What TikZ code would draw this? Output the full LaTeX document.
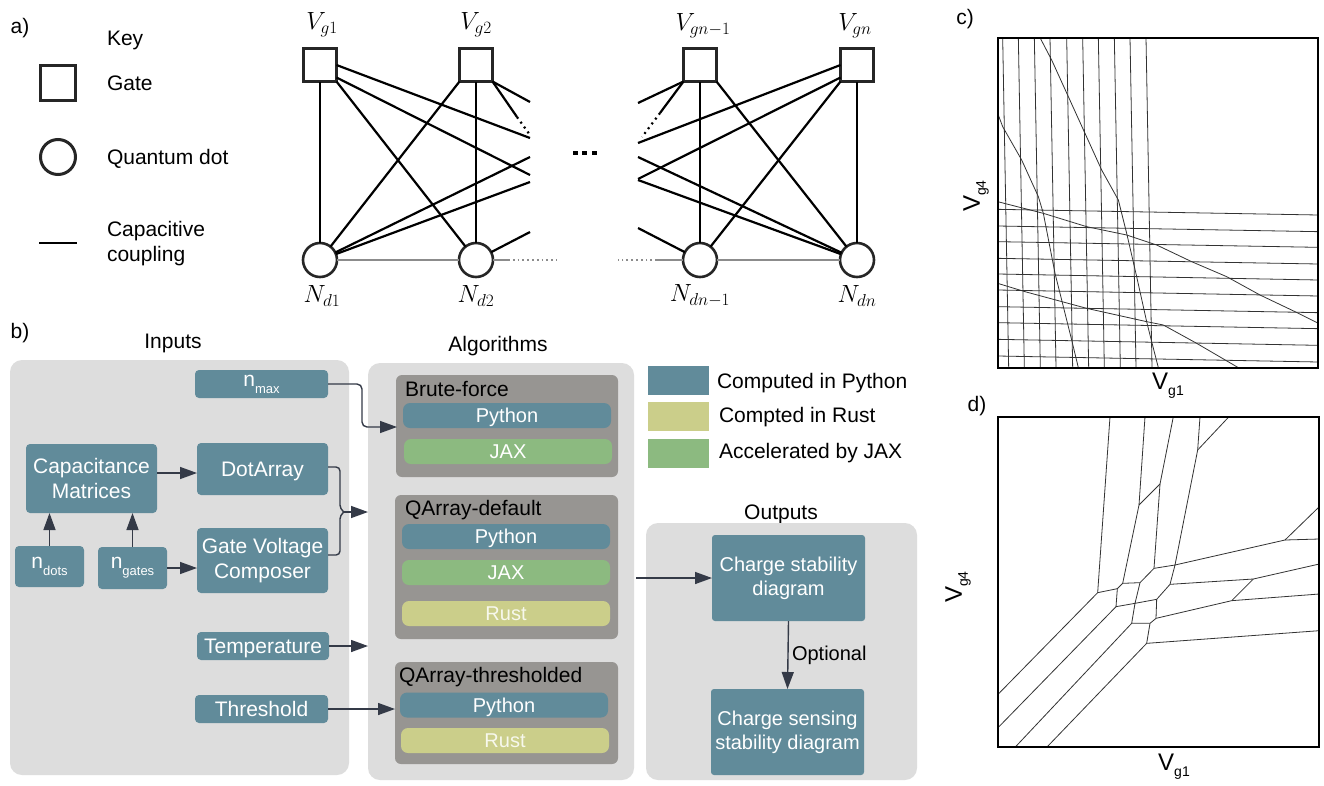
\documentclass[tikz,border=0pt]{standalone}
\usepackage[no-math]{fontspec}
\setmainfont{Liberation Sans}
\usetikzlibrary{arrows.meta}
\definecolor{cteal}{RGB}{97,139,154}
\definecolor{cgreen}{RGB}{140,186,128}
\definecolor{cyel}{RGB}{203,206,138}
\definecolor{cgroup}{RGB}{151,149,146}
\definecolor{cpanel}{RGB}{221,221,221}
\definecolor{carrow}{RGB}{52,58,71}
\definecolor{cgrayline}{RGB}{140,140,140}
\newcommand\fsz[2]{\fontsize{#1}{#2}\selectfont}
\newcommand\nsub[1]{n\raisebox{-7pt}{\fsz{13}{13}#1}}
\newcommand\Vsub[1]{V\raisebox{-6pt}{\fsz{14}{14}#1}}
\begin{document}
\begin{tikzpicture}[x=1pt,y=-1pt,
 every node/.style={inner sep=0pt, outer sep=0pt},
 panel/.style={fill=cpanel, rounded corners=12pt},
 grp/.style={fill=cgroup, rounded corners=6pt},
 tbox/.style={fill=cteal, rounded corners=4pt, text=white, font=\fsz{21}{25}, align=center},
 onel/.style={text height=15pt, text depth=0pt},
 obox/.style={fill=cteal, rounded corners=3pt, text=white, font=\fsz{20}{24}, align=center, minimum width=153pt, minimum height=86pt},
 barx/.style={rounded corners=7pt, text=white, font=\fsz{20}{24}, minimum width=208pt, minimum height=25pt, text height=14pt, text depth=0pt},
 pybar/.style={barx, fill=cteal},
 jaxbar/.style={barx, fill=cgreen},
 rustbar/.style={barx, fill=cyel, text=white!85!cyel},
 lbl/.style={font=\fsz{21}{25}},
 arr/.style={draw=carrow, line width=1.4pt, -{Triangle[length=17pt,width=12pt]}},
 aline/.style={draw=carrow, line width=1.4pt, rounded corners=4pt},
 cline/.style={line width=2.2pt},
 gsq/.style={draw=black!85, line width=2.8pt, minimum size=33pt, fill=white},
 qdot/.style={draw=black!85, circle, line width=2.6pt, minimum size=34pt, fill=white},
 gl/.style={draw=cgrayline, line width=1.8pt},
 dl/.style={draw=cgrayline, line width=1.8pt, dash pattern=on 1.8pt off 3pt},
 dlb/.style={draw=black, line width=2.2pt, dash pattern=on 2pt off 4pt},
 ml/.style={font=\fsz{23}{27}},
 frame/.style={draw, line width=2.2pt},
 csd/.style={line width=0.8pt, draw=black!80},
]
\useasboundingbox (0,0) rectangle (1324,785);
\fill[white] (0,0) rectangle (1324,785);

% ---------------- panel a ----------------
\node[lbl, anchor=base] (la) at (20,33) {a)};
\node[lbl, anchor=base west] (tkey) at (107,45) {Key};
\node[gsq, line width=3pt, minimum size=35pt] (kgate) at (58,82.5) {};
\node[lbl, anchor=base west] (tgate) at (107,90) {Gate};
\node[qdot, line width=3pt, minimum size=35pt] (kdot) at (58,157) {};
\node[lbl, anchor=base west] (tqd) at (107,164) {Quantum dot};
\coordinate (kl1) at (39,243); \coordinate (kl2) at (77,243);
\draw[line width=2.5pt] (kl1) -- (kl2);
\node[lbl, anchor=base west] (tcap) at (107,236) {Capacitive};
\node[lbl, anchor=base west] (tcoup) at (107,261) {coupling};

\node[gsq] (g1) at (320,65) {};
\node[gsq] (g2) at (476,65) {};
\node[gsq] (gn1) at (700,65) {};
\node[gsq] (gn) at (857,65) {};
\node[qdot] (d1) at (320,260) {};
\node[qdot] (d2) at (476,260) {};
\node[qdot] (dn1) at (700,260) {};
\node[qdot] (dn) at (857,260) {};

\node[ml] (lvg1) at (322,25) {$V_{g1}$};
\node[ml] (lvg2) at (476,25) {$V_{g2}$};
\node[ml] (lvgn1) at (703,26) {$V_{gn-1}$};
\node[ml] (lvgn) at (855,26) {$V_{gn}$};
\node[ml] (lnd1) at (322,296) {$N_{d1}$};
\node[ml] (lnd2) at (476,296) {$N_{d2}$};
\node[ml] (lndn1) at (700,296) {$N_{dn-1}$};
\node[ml] (lndn) at (857,296) {$N_{dn}$};

% truncated ends, left group
\coordinate (cL1) at (530,138);
\coordinate (cL2) at (530,175);
\coordinate (cL3) at (530,102);
\coordinate (cL4) at (517,117);
\coordinate (cL5) at (530,135);
\coordinate (cL6) at (530,157);
\coordinate (cL7) at (530,182);
\coordinate (cL8) at (530,232);
\coordinate (cL9) at (508,260);
\coordinate (cL10) at (557,260);
% right group
\coordinate (cR1) at (638,103);
\coordinate (cR2) at (660,113);
\coordinate (cR3) at (642,137);
\coordinate (cR4) at (638,143);
\coordinate (cR5) at (638,179);
\coordinate (cR6) at (638,157);
\coordinate (cR7) at (638,180);
\coordinate (cR8) at (638,228);
\coordinate (cR9) at (657,260);
\coordinate (cR10) at (618,260);

\draw[gl] (d1) -- (d2);
\draw[gl] (d2) -- (cL9);
\draw[dl] (cL9) -- (cL10);
\draw[gl] (dn1) -- (dn);
\draw[gl] (dn1) -- (cR9);
\draw[dl] (cR9) -- (cR10);

\draw[cline] (g1) -- (d1);
\draw[cline] (g1.east) -- (cL1);
\draw[cline] ([yshift=4pt]g1.south east) -- (cL2);
\draw[cline] (g1.south east) -- (d2);
\draw[cline] (g2.south west) -- (d1);
\draw[cline] (g2) -- (d2);
\draw[cline] (g2.south east) -- (cL3);
\draw[cline] (g2.south east) -- (cL4);
\draw[dlb] (cL4) -- (cL5);
\draw[cline] (d1) -- (cL6);
\draw[cline] (d1) -- (cL7);
\draw[cline] (d2) -- (cL8);

\draw[cline] (gn1.south west) -- (cR1);
\draw[cline] (gn1.south west) -- (cR2);
\draw[dlb] (cR2) -- (cR3);
\draw[cline] (gn1) -- (dn1);
\draw[cline] (gn1.south east) -- (dn);
\draw[cline] (gn.west) -- (cR4);
\draw[cline] ([yshift=4pt]gn.south west) -- (cR5);
\draw[cline] (gn.south west) -- (dn1);
\draw[cline] (gn) -- (dn);
\draw[cline] (cR6) -- (dn);
\draw[cline] (cR7) -- (dn);
\draw[cline] (cR8) -- (dn1);

\fill (573,151) rectangle (578,155);
\fill (582,151) rectangle (587,155);
\fill (592,151) rectangle (597,155);

% ---------------- panel b ----------------
\node[lbl, anchor=base] (lb) at (20,338) {b)};
\node[lbl, anchor=base] (tin) at (173,348) {Inputs};
\node[lbl, anchor=base] (talg) at (498,351) {Algorithms};
\node[lbl, anchor=base] (tout) at (781,519) {Outputs};

\node[panel, minimum width=339pt, minimum height=415pt] (inp) at (179.5,567.5) {};
\node[panel, minimum width=266pt, minimum height=417pt] (algp) at (501,571.5) {};
\node[panel, minimum width=271pt, minimum height=257pt] (outp) at (781.5,651.5) {};

\node[tbox, minimum width=133pt, minimum height=28pt] (nmax) at (261.5,384) {\nsub{max}};
\node[tbox, minimum width=131pt, minimum height=69pt] (cap) at (91.5,478.5) {Capacitance\\Matrices};
\node[tbox, onel, minimum width=131pt, minimum height=52pt] (dotarray) at (262.5,469) {DotArray};
\node[tbox, minimum width=69pt, minimum height=41pt] (ndots) at (49.5,566.5) {\nsub{dots}};
\node[tbox, minimum width=69pt, minimum height=42pt] (ngates) at (132.5,568) {\nsub{gates}};
\node[tbox, minimum width=131pt, minimum height=65pt] (gvc) at (262.5,560.5) {Gate Voltage\\Composer};
\node[tbox, onel, minimum width=132pt, minimum height=28pt] (temp) at (263,646) {Temperature};
\node[tbox, onel, minimum width=133pt, minimum height=28pt] (thresh) at (261.5,709) {Threshold};

\node[grp, minimum width=222pt, minimum height=102pt] (bf) at (507,426) {};
\node[lbl, anchor=base west] (tbf) at (405,396) {Brute-force};
\node[pybar] (bfpy) at (507,415.5) {Python};
\node[jaxbar] (bfjax) at (508,451.5) {JAX};

\node[grp, minimum width=223pt, minimum height=144pt] (qd) at (506.5,567) {};
\node[lbl, anchor=base west] (tqd2) at (405,515) {QArray-default};
\node[pybar] (qdpy) at (506,536.5) {Python};
\node[jaxbar] (qdjax) at (506,572.5) {JAX};
\node[rustbar] (qdrust) at (506,613.5) {Rust};

\node[grp, minimum width=223pt, minimum height=102pt] (qt) at (506.5,713) {};
\node[lbl, anchor=base west] (tqt) at (399,682) {QArray-thresholded};
\node[pybar] (qtpy) at (504,705) {Python};
\node[rustbar] (qtrust) at (505,740.5) {Rust};

\node[fill=cteal, minimum width=61pt, minimum height=29pt] (lpy) at (678.5,380.5) {};
\node[fill=cyel, minimum width=61pt, minimum height=29pt] (lru) at (678.5,416.5) {};
\node[fill=cgreen, minimum width=61pt, minimum height=29pt] (ljx) at (678.5,453.5) {};
\node[lbl, anchor=base west] (tlpy) at (717,388) {Computed in Python};
\node[lbl, anchor=base west] (tlru) at (719,422) {Compted in Rust};
\node[lbl, anchor=base west] (tljx) at (719,458) {Accelerated by JAX};

\node[obox] (csd) at (788.5,578) {Charge stability\\diagram};
\node[obox] (cssd) at (787.5,732) {Charge sensing\\stability diagram};
\node[font=\fsz{20}{24}, anchor=base west] (opt) at (792,660) {Optional};

% connectors
\draw[arr] (cap.east |- 0,473) -- (dotarray.west |- 0,473);
\draw[arr] (ndots.north) -- (ndots.north |- cap.south);
\draw[arr] (ngates.north) -- (ngates.north |- cap.south);
\draw[arr] (ngates.east) -- (ngates.east -| gvc.west);
\coordinate (bj) at (344,512);
\coordinate (balg) at (algp.west |- bj);
\draw[aline] (dotarray.east |- 0,467) -- (340,467) -- (340,509) -- (bj);
\draw[aline] (gvc.east |- 0,555) -- (340,555) -- (340,515) -- (bj);
\draw[arr] (bj) -- (balg);
\coordinate (nmtip) at (397,427);
\draw[arr, rounded corners=5pt] (nmax.east) -- (362,384) -- (362,427) -- (nmtip);
\draw[arr] (temp.east) -- (temp.east -| algp.west);
\draw[arr] (thresh.east) -- (thresh.east -| qt.west);
\coordinate (ao) at ([xshift=2pt]algp.east);
\draw[arr] (ao |- csd.west) -- (csd.west);
\draw[arr] (csd.south) -- (cssd.north);

% ---------------- panel c ----------------
\node[lbl, anchor=base] (lc) at (965,24) {c)};
\begin{scope}[shift={(930,0)}, scale=1/3]
 \clip (203,113) rectangle (1165,1103);
 \foreach \x in {218,265,313,360,410,458,505,553,600,648}{
   \draw[csd] (\x,113) -- (\x+18,1103);
 }
 \foreach \a/\b in {628/645,678/695,725/742,775/792,822/840,870/888,920/938,968/986,1018/1036,1068/1086}{
   \draw[csd] (203,\a) -- (1165,\b);
 }
 \draw[csd] (330,113) -- (365,180) -- (415,290) -- (465,400) -- (515,510) -- (565,600) -- (590,700) -- (620,830) -- (650,965) -- (665,1025) -- (685,1103);
 \draw[csd] (203,340) -- (218,380) -- (275,480) -- (325,590) -- (340,640) -- (375,820) -- (425,1020) -- (445,1103);
 \draw[csd] (203,605) -- (340,640) -- (470,680) -- (590,705) -- (680,735) -- (785,785) -- (890,830) -- (990,885) -- (1095,935) -- (1165,970);
 \draw[csd] (203,850) -- (285,875) -- (470,925) -- (650,965) -- (700,975) -- (800,1030) -- (925,1103);
\end{scope}
\node[frame, minimum width=320pt, minimum height=330pt] (pc) at (1158,203) {};
\node[font=\fsz{24}{28}, rotate=90] (cvg4) at (976,196) {\Vsub{g4}};
\node[font=\fsz{24}{28}] (cvg1) at (1168,386) {\Vsub{g1}};

% ---------------- panel d ----------------
\node[lbl, anchor=base] (ld) at (977,411) {d)};
\begin{scope}[shift={(930,390)}, scale=1/3]
 \clip (205,80) rectangle (1168,1072);
 \draw[csd] (540,80) -- (503,608) -- (205,912);
 \draw[csd] (645,80) -- (627,345) -- (578,580);
 \draw[csd] (627,345) -- (690,282);
 \draw[csd] (730,80) -- (690,282) -- (672,535);
 \draw[csd] (810,80) -- (803,180) -- (735,525);
 \draw[csd] (803,180) -- (897,80);
 \draw[csd] (503,608) -- (562,596) -- (578,580) -- (630,578) -- (672,535) -- (735,525) -- (720,583) -- (680,628) -- (615,640) -- (630,578);
 \draw[csd] (562,596) -- (558,650) -- (615,640) -- (605,700) -- (660,700) -- (678,685) -- (680,628);
 \draw[csd] (660,700) -- (650,760);
 \draw[csd] (558,650) -- (205,1012);
 \draw[csd] (605,700) -- (255,1072);
 \draw[csd] (650,760) -- (350,1072);
 \draw[csd] (735,525) -- (1065,450) -- (1168,447);
 \draw[csd] (1065,450) -- (1168,350);
 \draw[csd] (720,583) -- (970,567) -- (1168,522);
 \draw[csd] (970,567) -- (905,632);
 \draw[csd] (678,685) -- (905,632) -- (1168,612);
 \draw[csd] (650,760) -- (1168,722);
\end{scope}
\node[frame, minimum width=321pt, minimum height=330pt] (pd) at (1158.5,582) {};
\node[font=\fsz{24}{28}, rotate=90] (dvg4) at (958,587) {\Vsub{g4}};
\node[font=\fsz{24}{28}] (dvg1) at (1174,767) {\Vsub{g1}};
\end{tikzpicture}
\end{document}
